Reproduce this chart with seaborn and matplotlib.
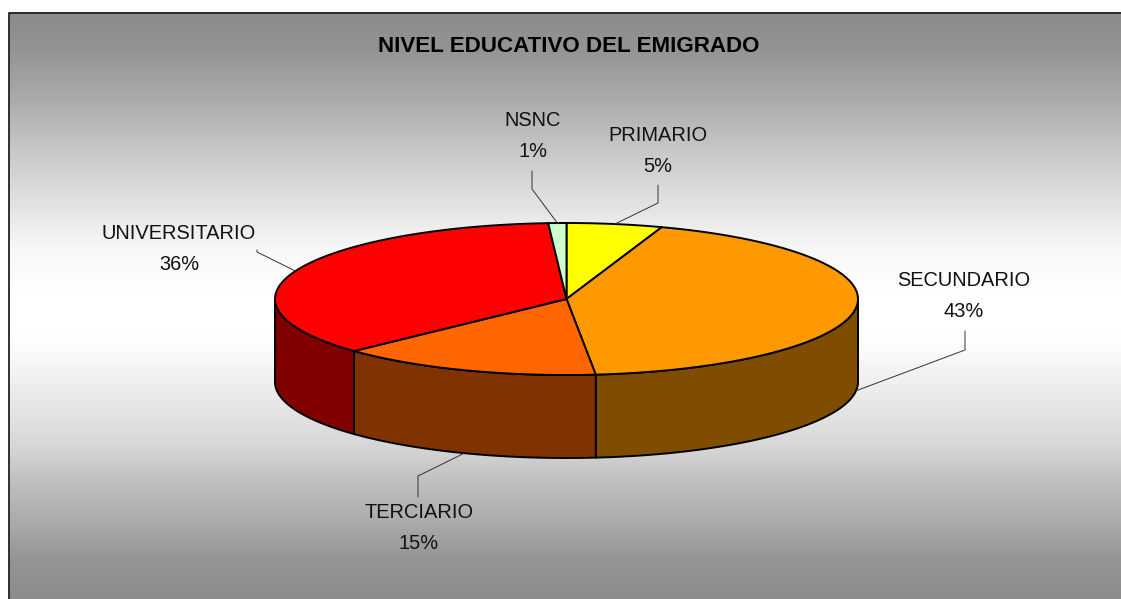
import numpy as np
import matplotlib
matplotlib.use('Agg')
import matplotlib.pyplot as plt
import seaborn as sns

categories = ['PRIMARIO', 'SECUNDARIO', 'TERCIARIO', 'UNIVERSITARIO', 'NSNC']
values = [5.3, 43.1, 14.6, 36.0, 1.0]
top_colors = ['#FFFF00', '#FF9900', '#FF6600', '#FF0000', '#CCFFCC']
# label centre (px) and the elbow of each leader line
label_pos = [(658, 151), (964, 296), (419, 528), (179, 249), (533, 136)]
elbows = [[(658, 185), (658, 203)], [(965, 331), (965, 350)], [(418, 497), (418, 476)],
          [(257, 250), (257, 252)], [(532, 171), (532, 189)]]

W, H = 1121, 599
CX, CY, RX, RY, DEPTH = 566.5, 299, 291.5, 76, 83

sns.set_theme(style='white')
plt.rcParams['font.family'] = ['Liberation Sans', 'DejaVu Sans']

fig = plt.figure(figsize=(W / 100, H / 100), dpi=100, facecolor='white')
ax = fig.add_axes([0, 0, 1, 1])
ax.set_xlim(0, W)
ax.set_ylim(H, 0)
ax.axis('off')

# gray -> white -> gray background
rows = np.arange(12, H)
shade = np.interp(rows, [12, 50, 100, 150, 217, 250, 300, 330, 350, 400, 450, 480, 520, 560, 599],
                  [0.54, 0.58, 0.67, 0.78, 0.91, 0.97, 1.0, 1.0, 0.98, 0.91, 0.83, 0.75, 0.67, 0.58, 0.55])
ax.imshow(shade[:, None], cmap='gray', vmin=0, vmax=1, aspect='auto',
          extent=(9, W, H, 12), zorder=0)
ax.plot([8.5, 8.5, W], [H, 12.5, 12.5], color='#222222', lw=1.3, zorder=1)
ax.set_xlim(0, W)
ax.set_ylim(H, 0)


def rim(theta, drop=0):
    # theta in degrees, clockwise from the top of the ellipse
    t = np.radians(theta)
    return CX + RX * np.sin(t), CY - RY * np.cos(t) + drop


edges = 3.6 * np.concatenate([[0], np.cumsum(values)])

# side walls first, only the front half of the pie can be seen
for i, color in enumerate(top_colors):
    a, b = max(edges[i], 90), min(edges[i + 1], 270)
    if a >= b:
        continue
    th = np.linspace(a, b, 80)
    x, y = rim(th)
    x2, y2 = rim(th[::-1], DEPTH)
    side = tuple(c * 0.5 for c in sns.color_palette([color])[0])
    ax.fill(np.r_[x, x2], np.r_[y, y2], facecolor=side, edgecolor='black', lw=1.4, zorder=2)

# top faces
for i, color in enumerate(top_colors):
    th = np.linspace(edges[i], edges[i + 1], 80)
    x, y = rim(th)
    ax.fill(np.r_[CX, x], np.r_[CY, y], facecolor=color, edgecolor='black', lw=1.4, zorder=3)

# labels and leader lines
for i, name in enumerate(categories):
    mid = (edges[i] + edges[i + 1]) / 2
    on_front = 90 < mid < 270
    px, py = rim(mid, DEPTH if on_front else 0)
    pts = elbows[i] + [(px, py)]
    ax.plot(*zip(*pts), color='#333333', lw=0.7, zorder=4)
    lx, ly = label_pos[i]
    ax.text(lx, ly, f'{name}\n{values[i]:.0f}%', ha='center', va='center', fontsize=14.4,
            color='#111111', linespacing=1.8, zorder=5)

ax.text(569, 46, 'NIVEL EDUCATIVO DEL EMIGRADO', ha='center', va='center',
        fontsize=16.1, fontweight='bold', color='black', zorder=5)

fig.savefig('out.png', dpi=100)
